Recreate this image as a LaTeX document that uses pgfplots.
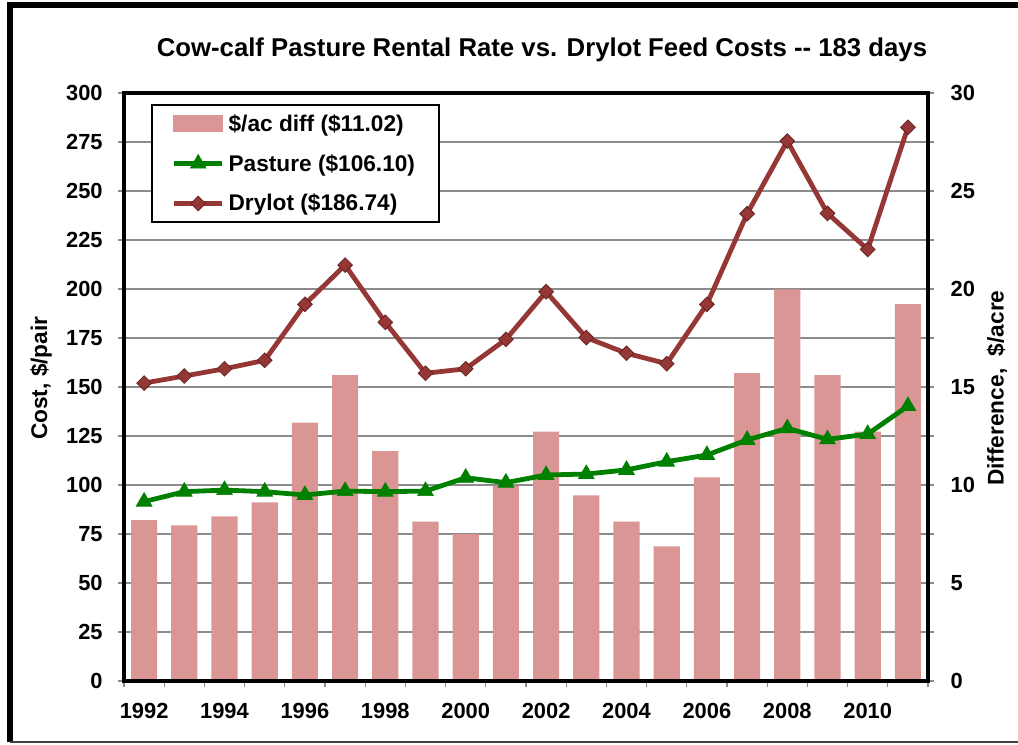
\documentclass[border=0pt]{standalone}
\usepackage{pgfplots}
\pgfplotsset{compat=1.18}
\usepackage{fontspec}
\setmainfont{Liberation Sans}

\definecolor{barfill}{HTML}{D99694}
\definecolor{pastgreen}{HTML}{008000}
\definecolor{drycol}{HTML}{953735}
\definecolor{drydark}{HTML}{632523}
\definecolor{gridcol}{HTML}{8C8C8C}

\pgfplotsset{
  common/.style={
    at={(93pt,47.25pt)}, anchor=south west,
    scale only axis, width=603pt, height=441pt,
    xmin=1991.5, xmax=2011.5,
    axis line style={black, line width=2.4pt},
    tick align=outside,
    major tick length=4.5pt, minor tick length=4.5pt,
    tick style={draw=gridcol, line width=1pt},
    ticklabel style={font=\bfseries\fontsize{16.4}{18}\selectfont},
    /pgf/number format/assume math mode=true,
  },
}

\begin{document}
\begin{tikzpicture}[x=0.75pt, y=0.75pt]
\useasboundingbox (0,0) rectangle (1018,744);
\begin{scope}
\clip (0,0) rectangle (1018,744);
\draw[black, line width=3.8pt] (1040,739) -- (10,739) -- (10,2);
\draw[black!75, line width=1.4pt] (10,2) -- (1040,2);
\end{scope}

\node[font=\bfseries\fontsize{19.3}{22}\selectfont] at (542,694)
  {Cow-calf Pasture Rental Rate vs. Drylot Feed Costs -{}- 183 days};

% difference bars, right axis
\begin{axis}[common,
  ymin=0, ymax=30,
  xtick={1992,1994,...,2010},
  xticklabels={1992,1994,1996,1998,2000,2002,2004,2006,2008,2010},
  minor xtick={1991.5,1992.5,...,2011.5},
  xtick pos=left,
  every major x tick/.style={draw=none},
  xticklabel style={yshift=-9pt},
  ytick={0,5,...,30},
  minor ytick={2.5,7.5,...,27.5},
  ytick pos=right, yticklabel pos=right,
  yticklabel style={xshift=9pt},
  ymajorgrids, yminorgrids,
  major grid style={gridcol, line width=1.2pt},
  minor grid style={gridcol, line width=1.2pt},
  ylabel={Difference,\ \ \$/acre},
  every axis y label/.style={at={(axis description cs:1.0858,0.498)}, anchor=center, rotate=90,
    font=\bfseries\fontsize{17}{20}\selectfont},
]
\addplot[ybar, bar width=0.65, fill=barfill, draw=none] coordinates {
  (1992,8.21) (1993,7.94) (1994,8.40) (1995,9.12) (1996,13.18)
  (1997,15.61) (1998,11.73) (1999,8.13) (2000,7.50) (2001,9.95)
  (2002,12.72) (2003,9.47) (2004,8.13) (2005,6.87) (2006,10.39)
  (2007,15.71) (2008,19.98) (2009,15.61) (2010,12.72) (2011,19.23)
};
\end{axis}

% cost lines, left axis
\begin{axis}[common,
  ymin=0, ymax=300,
  xtick=\empty,
  ytick={0,25,...,300},
  ytick pos=left,
  yticklabel style={xshift=-8pt},
  ylabel={Cost, \$/pair},
  every axis y label/.style={at={(axis description cs:-0.1032,0.515)}, anchor=center, rotate=90,
    font=\bfseries\fontsize{17}{20}\selectfont},
  legend image code/.code={\draw[mark repeat=2, mark phase=2] plot coordinates {(0pt,0pt) (18pt,0pt) (36pt,0pt)};},
  legend style={at={(0.0336,0.981)}, anchor=north west, draw=black, line width=1.2pt, fill=white,
    font=\bfseries\fontsize{17}{20}\selectfont, inner xsep=15pt, inner ysep=4pt, row sep=9.8pt,
    nodes={inner sep=3pt}},
  legend cell align=left,
]
\addlegendimage{legend image code/.code={\fill[barfill] (0pt,-5.6pt) rectangle (36pt,5.6pt);}}
\addlegendentry{\$/ac diff (\$11.02)}
\addplot[pastgreen, line width=3.6pt, mark=triangle*, mark size=6.8pt, mark options={solid, line width=0.5pt}] coordinates {
  (1992,91.5) (1993,96.6) (1994,97.4) (1995,96.6) (1996,94.9)
  (1997,96.9) (1998,96.6) (1999,96.9) (2000,103.7) (2001,101.2)
  (2002,105.1) (2003,105.6) (2004,107.7) (2005,111.9) (2006,115.3)
  (2007,123.0) (2008,128.9) (2009,123.3) (2010,126.0) (2011,140.3)
};
\addlegendentry{Pasture (\$106.10)}
\addplot[drycol, line width=3.6pt, mark=square*, mark size=3.9pt,
  mark options={solid, rotate=45, fill=drycol, draw=drydark, line width=0.6pt}] coordinates {
  (1992,152.0) (1993,155.6) (1994,159.3) (1995,163.6) (1996,192.2)
  (1997,212.2) (1998,183.0) (1999,157.0) (2000,159.3) (2001,174.3)
  (2002,198.6) (2003,175.2) (2004,167.2) (2005,161.9) (2006,192.2)
  (2007,238.4) (2008,275.5) (2009,238.6) (2010,220.2) (2011,282.5)
};
\addlegendentry{Drylot (\$186.74)}
\end{axis}
\end{tikzpicture}
\end{document}
